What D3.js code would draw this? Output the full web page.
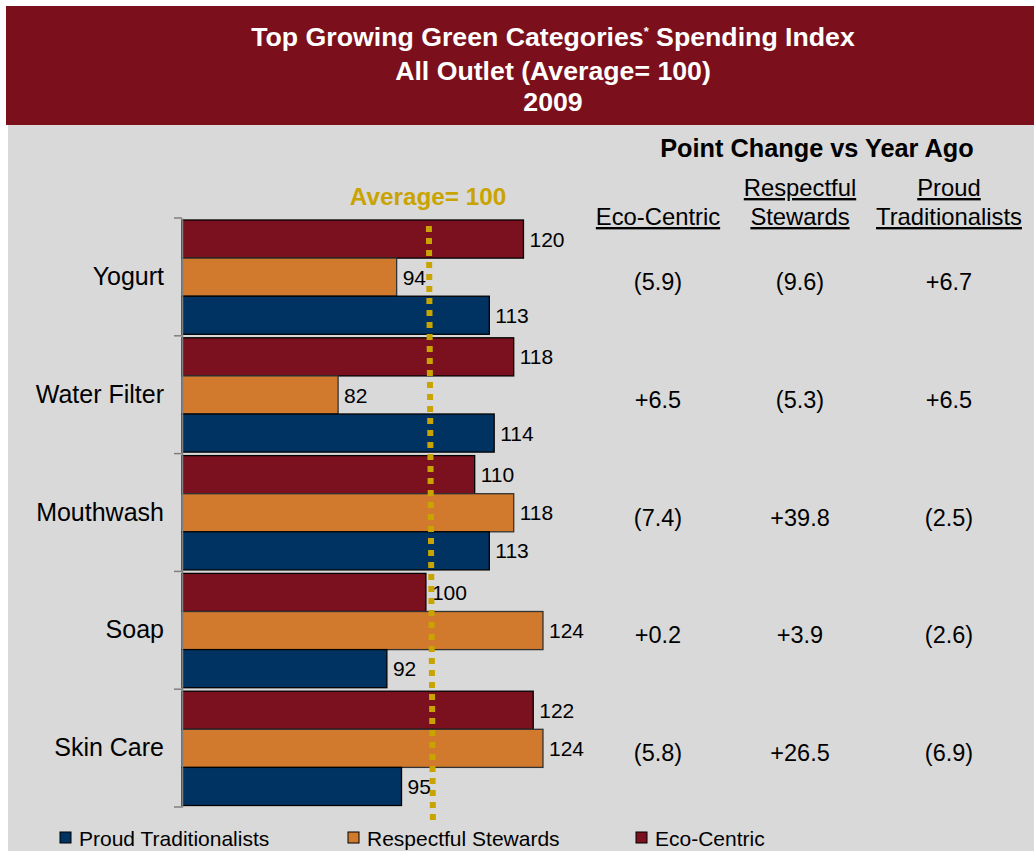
<!DOCTYPE html>
<html>
<head>
<meta charset="utf-8">
<script src="https://cdn.jsdelivr.net/npm/d3@7"></script>
<style>
  body { margin: 0; background: #fff; }
  svg { display: block; font-family: "Liberation Sans", Arial, sans-serif; }
</style>
</head>
<body>
<svg id="chart" width="1034" height="851"></svg>
<script>
// categories and index values per segment
const categories = ["Yogurt", "Water Filter", "Mouthwash", "Soap", "Skin Care"];
const segments = ["Eco-Centric", "Respectful Stewards", "Proud Traditionalists"];
const ecoCentric = [120, 118, 110, 100, 122];
const respectful = [94, 82, 118, 124, 124];
const proud = [113, 114, 113, 92, 95];

// point change vs year ago
const ecoChange = ["(5.9)", "+6.5", "(7.4)", "+0.2", "(5.8)"];
const respChange = ["(9.6)", "(5.3)", "+39.8", "+3.9", "+26.5"];
const proudChange = ["+6.7", "+6.5", "(2.5)", "(2.6)", "(6.9)"];

const average = 100;
const legendOrder = ["Proud Traditionalists", "Respectful Stewards", "Eco-Centric"];

const colors = {
    "Eco-Centric": "#7b111e",
    "Respectful Stewards": "#d17a2e",
    "Proud Traditionalists": "#003362"
};
const gold = "#c9a400";

const svg = d3.select("#chart");

// background
svg.append("rect").attr("x", 8).attr("y", 125).attr("width", 1026).attr("height", 726).attr("fill", "#d9d9d9");
svg.append("rect").attr("x", 6).attr("y", 6).attr("width", 1028).attr("height", 119).attr("fill", "#7b101c");

// title
const title = svg.append("g").attr("fill", "#fff").attr("font-weight", "bold")
    .attr("font-size", 26.7).attr("text-anchor", "middle");
const t1 = title.append("text").attr("x", 553).attr("y", 46);
t1.append("tspan").text("Top Growing Green Categories");
t1.append("tspan").attr("font-size", 13).attr("dy", -10).text("*");
t1.append("tspan").attr("dy", 10).text(" Spending Index");
title.append("text").attr("x", 553).attr("y", 80).text("All Outlet (Average= 100)");
title.append("text").attr("x", 553).attr("y", 111).text("2009");

// scales
const x = d3.scaleLinear().domain([50, 150]).range([182, 182 + 100 * 4.878]);
const y = d3.scaleBand().domain(categories).range([218, 807]);
const ySub = d3.scaleBand().domain(segments).range([2, y.bandwidth() - 1.5]);

const rows = categories.map((c, i) => ({
    category: c,
    values: [
        { seg: "Eco-Centric", v: ecoCentric[i] },
        { seg: "Respectful Stewards", v: respectful[i] },
        { seg: "Proud Traditionalists", v: proud[i] }
    ]
}));

const groups = svg.selectAll("g.group").data(rows).enter().append("g")
    .attr("class", "group")
    .attr("transform", d => `translate(0,${y(d.category)})`);

groups.selectAll("rect").data(d => d.values).enter().append("rect")
    .attr("x", x(50))
    .attr("y", d => ySub(d.seg))
    .attr("width", d => x(d.v) - x(50))
    .attr("height", ySub.bandwidth())
    .attr("fill", d => colors[d.seg])
    .attr("stroke", d => d.seg === "Respectful Stewards" ? "#333" : "#000")
    .attr("stroke-width", 1.3);

groups.selectAll("text.val").data(d => d.values).enter().append("text")
    .attr("class", "val")
    .attr("x", d => x(d.v) + 6)
    .attr("y", d => ySub(d.seg) + ySub.bandwidth() / 2)
    .attr("dy", "0.36em")
    .attr("font-size", 21)
    .attr("fill", "#000")
    .text(d => d.v);

// category axis
const axis = svg.append("g").attr("transform", `translate(${x(50)},0)`)
    .call(d3.axisLeft(y).tickSize(0).tickPadding(18).tickFormat(d => d));
axis.select(".domain").attr("stroke", "#7f7f7f").attr("stroke-width", 1.5);
axis.selectAll("text").attr("font-size", 25).attr("fill", "#000")
    .attr("font-family", "Liberation Sans, Arial, sans-serif");

const bounds = categories.map(c => y(c)).concat([y.range()[1]]);
svg.append("g").selectAll("line").data(bounds).enter().append("line")
    .attr("x1", x(50) - 8).attr("x2", x(50))
    .attr("y1", d => d).attr("y2", d => d)
    .attr("stroke", "#7f7f7f").attr("stroke-width", 1.5);

// average line
svg.append("line")
    .attr("x1", x(average) + 3).attr("x2", x(average) + 7)
    .attr("y1", 226).attr("y2", 821)
    .attr("stroke", gold).attr("stroke-width", 6)
    .attr("stroke-dasharray", "6 6");
svg.append("text")
    .attr("x", 428).attr("y", 205)
    .attr("text-anchor", "middle")
    .attr("font-size", 24.3).attr("font-weight", "bold")
    .attr("fill", gold)
    .text("Average= 100");

// point change table
svg.append("text")
    .attr("x", 817).attr("y", 157)
    .attr("text-anchor", "middle")
    .attr("font-size", 25.3).attr("font-weight", "bold")
    .text("Point Change vs Year Ago");

const cols = [
    { x: 658, head: ["Eco-Centric"], vals: ecoChange },
    { x: 800, head: ["Respectful", "Stewards"], vals: respChange },
    { x: 949, head: ["Proud", "Traditionalists"], vals: proudChange }
];

cols.forEach(col => {
    col.head.forEach((h, j) => {
        const baseY = 225 - (col.head.length - 1 - j) * 29;
        svg.append("text")
            .attr("x", col.x).attr("y", baseY)
            .attr("text-anchor", "middle")
            .attr("font-size", 23.8)
            .attr("text-decoration", "underline")
            .text(h);
    });
    svg.append("g").selectAll("text").data(col.vals).enter().append("text")
        .attr("x", col.x)
        .attr("y", (d, i) => y(categories[i]) + y.bandwidth() / 2 + 13)
        .attr("text-anchor", "middle")
        .attr("font-size", 23.5)
        .text(d => d);
});

// legend
const legendX = [60, 348, 636];
const legend = svg.append("g").selectAll("g").data(legendOrder).enter().append("g")
    .attr("transform", (d, i) => `translate(${legendX[i]},838)`);
legend.append("rect")
    .attr("x", 0).attr("y", -6).attr("width", 11).attr("height", 11)
    .attr("fill", d => colors[d]).attr("stroke", "#000").attr("stroke-width", 1);
legend.append("text")
    .attr("x", 19).attr("y", 0).attr("dy", "0.36em")
    .attr("font-size", 21)
    .text(d => d);
</script>
</body>
</html>
